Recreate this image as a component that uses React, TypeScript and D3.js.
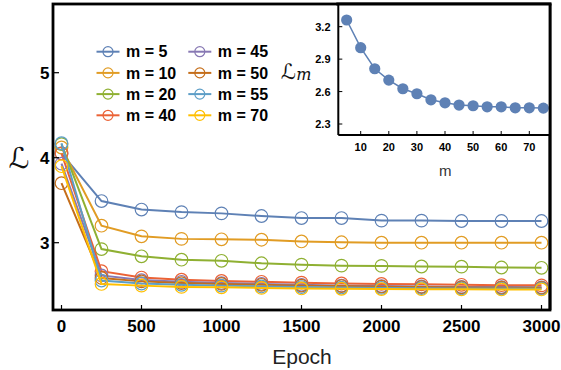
import React from "react";
import * as d3 from "d3";

const epochs = [0, 250, 500, 750, 1000, 1250, 1500, 1750, 2000, 2250, 2500, 2750, 3000];
const seriesNames = ["m = 5", "m = 10", "m = 20", "m = 40", "m = 45", "m = 50", "m = 55", "m = 70"];
const m5 = [4.05, 3.49, 3.39, 3.36, 3.345, 3.314, 3.29, 3.29, 3.26, 3.26, 3.255, 3.255, 3.255];
const m10 = [4.12, 3.2, 3.075, 3.045, 3.04, 3.035, 3.015, 3.005, 3.0, 3.0, 3.0, 3.0, 3.0];
const m20 = [4.16, 2.925, 2.84, 2.8, 2.787, 2.758, 2.742, 2.73, 2.727, 2.72, 2.718, 2.708, 2.705];
const m40 = [4.05, 2.665, 2.59, 2.565, 2.55, 2.54, 2.53, 2.52, 2.515, 2.51, 2.505, 2.5, 2.498];
const m45 = [3.93, 2.615, 2.56, 2.54, 2.525, 2.515, 2.505, 2.495, 2.49, 2.485, 2.48, 2.478, 2.475];
const m50 = [3.7, 2.585, 2.545, 2.525, 2.515, 2.505, 2.495, 2.49, 2.483, 2.478, 2.474, 2.47, 2.469];
const m55 = [4.17, 2.555, 2.52, 2.505, 2.495, 2.485, 2.478, 2.472, 2.468, 2.465, 2.462, 2.46, 2.459];
const m70 = [3.9, 2.515, 2.495, 2.48, 2.475, 2.468, 2.462, 2.458, 2.455, 2.453, 2.451, 2.45, 2.45];
const seriesValues = [m5, m10, m20, m40, m45, m50, m55, m70];
const colors = ["#5E81B5", "#E19C24", "#8FB032", "#EB6235", "#8778B3", "#C56E1A", "#5D9EC7", "#FFBF00"];

const xTicks = [0, 500, 1000, 1500, 2000, 2500, 3000];
const yTicks = [3, 4, 5];

const insetM = [5, 10, 15, 20, 25, 30, 35, 40, 45, 50, 55, 60, 65, 70, 75];
const insetLoss = [3.262, 3.006, 2.811, 2.706, 2.626, 2.58, 2.524, 2.496, 2.475, 2.469, 2.459, 2.459, 2.45, 2.45, 2.447];
const insetXTicks = [10, 20, 30, 40, 50, 60, 70];
const insetYTicks = [2.3, 2.6, 2.9, 3.2];

const FONT = "'Liberation Sans', Arial, sans-serif";
const SCRIPT = "'DejaVu Serif', 'DejaVu Sans', serif";

export default function App() {
  const left = 53, right = 550, top = 4, bottom = 310;
  const x = d3.scaleLinear().domain([0, 3000]).range([61.5, 541.5]);
  const y = d3.scaleLinear().domain([3, 5]).range([242.7, 72.7]);

  const iLeft = 338.3, iBottom = 135;
  const ix = d3.scaleLinear().domain([10, 70]).range([360.7, 529.3]);
  const iy = d3.scaleLinear().domain([2.3, 3.2]).range([124, 26.7]);

  const line = d3.line<number>().x((_, i) => x(epochs[i])).y((d) => y(d));
  const iline = d3.line<number>().x((_, i) => ix(insetM[i])).y((d) => iy(d));

  const legendRows = [51.7, 72.9, 94.1, 115.3];
  const legendCols = [96.5, 188.3];

  return (
    <svg width={561} height={370} style={{ position: "absolute", left: 0, top: 0, background: "#fff" }}>
      <defs>
        <clipPath id="plotclip">
          <rect x={left} y={top} width={right - left} height={bottom - top} />
        </clipPath>
      </defs>
      <rect x={0} y={0} width={561} height={370} fill="#fff" />
      <g clipPath="url(#plotclip)">
        {seriesValues.map((vals, si) => (
          <g key={si}>
            <path d={line(vals) || ""} fill="none" stroke={colors[si]} strokeWidth={2} />
            {vals.map((v, i) => (
              <circle key={i} cx={x(epochs[i])} cy={y(v)} r={6.3} fill="none" stroke={colors[si]} strokeWidth={1.2} />
            ))}
          </g>
        ))}
      </g>

      {/* legend */}
      {seriesNames.map((name, i) => {
        const col = Math.floor(i / 4);
        const row = i % 4;
        const lx = legendCols[col];
        const ly = legendRows[row];
        return (
          <g key={name}>
            <line x1={lx} x2={lx + 23} y1={ly} y2={ly} stroke={colors[i]} strokeWidth={2} />
            <circle cx={lx + 11.5} cy={ly} r={5} fill="none" stroke={colors[i]} strokeWidth={1.2} />
            <text x={lx + 29.5} y={ly + 5.6} fontFamily={FONT} fontWeight="bold" fontSize={16} fill="#000">
              {name}
            </text>
          </g>
        );
      })}

      {/* main frame */}
      <rect x={left} y={top} width={right - left} height={bottom - top} fill="none" stroke="#000" strokeWidth={2.8} />
      {xTicks.map((t) => (
        <g key={t}>
          <line x1={x(t)} x2={x(t)} y1={bottom} y2={bottom - 5} stroke="#000" strokeWidth={1.2} />
          <text x={x(t)} y={332.3} textAnchor="middle" fontFamily={FONT} fontWeight="bold" fontSize={17}>
            {t}
          </text>
        </g>
      ))}
      {yTicks.map((t) => (
        <g key={t}>
          <line x1={left} x2={left + 6} y1={y(t)} y2={y(t)} stroke="#000" strokeWidth={1.2} />
          <text x={49.5} y={y(t) + 6.2} textAnchor="end" fontFamily={FONT} fontWeight="bold" fontSize={17}>
            {t}
          </text>
        </g>
      ))}
      <text x={302} y={364.4} textAnchor="middle" fontFamily={FONT} fontSize={21} fill="#222">
        Epoch
      </text>
      <text x={19} y={168} textAnchor="middle" fontFamily={SCRIPT} fontStyle="italic" fontSize={29} fill="#111">
        ℒ
      </text>

      {/* inset */}
      <rect x={iLeft} y={top} width={right - iLeft} height={iBottom - top} fill="#fff" />
      <path d={iline(insetLoss) || ""} fill="none" stroke="#5E81B5" strokeWidth={1.5} />
      {insetLoss.map((v, i) => (
        <circle key={i} cx={ix(insetM[i])} cy={iy(v)} r={5.6} fill="#5E81B5" />
      ))}
      <line x1={iLeft} x2={iLeft} y1={top} y2={iBottom} stroke="#000" strokeWidth={2} />
      <line x1={iLeft} x2={right} y1={iBottom} y2={iBottom} stroke="#000" strokeWidth={2} />
      {insetXTicks.map((t) => (
        <g key={t}>
          <line x1={ix(t)} x2={ix(t)} y1={iBottom} y2={iBottom - 4} stroke="#000" strokeWidth={1} />
          <text x={ix(t)} y={151} textAnchor="middle" fontFamily={FONT} fontWeight="bold" fontSize={11}>
            {t}
          </text>
        </g>
      ))}
      {insetYTicks.map((t) => (
        <g key={t}>
          <line x1={iLeft} x2={iLeft + 4} y1={iy(t)} y2={iy(t)} stroke="#000" strokeWidth={1} />
          <text x={330.5} y={iy(t) + 4} textAnchor="end" fontFamily={FONT} fontWeight="bold" fontSize={11}>
            {t.toFixed(1)}
          </text>
        </g>
      ))}
      <text x={445.3} y={176} textAnchor="middle" fontFamily={FONT} fontSize={15} fill="#333">
        m
      </text>
      <text x={281} y={79} fontFamily={SCRIPT} fill="#111">
        <tspan fontStyle="italic" fontSize={21}>ℒ</tspan>
        <tspan fontStyle="italic" fontSize={16} dy={1}>m</tspan>
      </text>

      {/* redraw main frame top/right over inset */}
      <line x1={iLeft - 2} x2={right + 1.4} y1={top} y2={top} stroke="#000" strokeWidth={2.8} />
      <line x1={right} x2={right} y1={top} y2={bottom} stroke="#000" strokeWidth={2.8} />
    </svg>
  );
}
